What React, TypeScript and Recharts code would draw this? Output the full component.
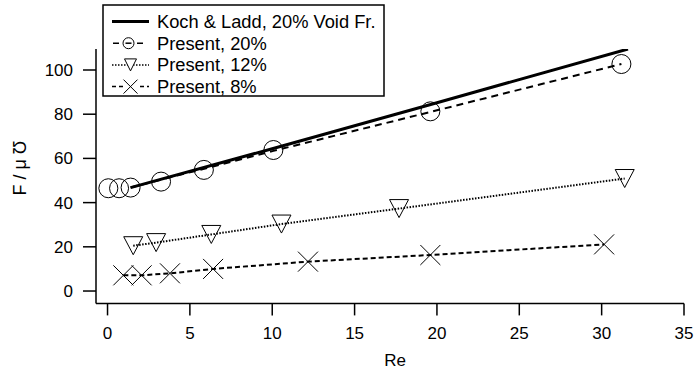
import React from 'react';
import { ComposedChart, Line, XAxis, YAxis, Label } from 'recharts';

const FONT = '"Liberation Sans", Arial, Helvetica, sans-serif';

const X_TICKS = [0, 5, 10, 15, 20, 25, 30, 35];
const Y_TICKS = [0, 20, 40, 60, 80, 100];

// Koch & Ladd, 20% void fraction (solid line)
const kochRe = [1.4, 10, 20, 31.6];
const kochF = [46.8, 64.4, 85.2, 109.5];

// Present, 20% (circles) and its dashed fit
const p20Re = [0.05, 0.7, 1.4, 3.25, 5.85, 10.07, 19.6, 31.2];
const p20F = [46.5, 46.5, 46.8, 49.5, 54.8, 63.8, 81.3, 102.7];
const p20FitRe = [1.4, 10.07, 19.6, 31.2];
const p20FitF = [46.8, 63.4, 81.0, 102.7];

// Present, 12% (down triangles)
const p12Re = [1.56, 2.95, 6.3, 10.56, 17.7, 31.4];
const p12F = [20.5, 21.9, 25.6, 30.3, 37.3, 50.9];

// Present, 8% (crosses)
const p8Re = [0.96, 2.07, 3.79, 6.41, 12.17, 19.6, 30.15];
const p8F = [7.1, 7.1, 8.0, 10.0, 13.3, 16.3, 21.1];

const LEGEND_LABELS = ['Koch & Ladd, 20% Void Fr.', 'Present, 20%', 'Present, 12%', 'Present, 8%'];

const toPoints = (xs: number[], ys: number[]) => xs.map((x, i) => ({ x, y: ys[i] }));

const kochData = toPoints(kochRe, kochF);
const p20Data = toPoints(p20Re, p20F);
const p20FitData = toPoints(p20FitRe, p20FitF);
const p12Data = toPoints(p12Re, p12F);
const p8Data = toPoints(p8Re, p8F);

const CircleDot = (props: any) => {
  const { cx, cy, index } = props;
  return <circle key={`c-${index}`} cx={cx} cy={cy} r={9.5} fill="none" stroke="#000" strokeWidth={1} />;
};

const TriangleDot = (props: any) => {
  const { cx, cy, index } = props;
  return (
    <polygon
      key={`t-${index}`}
      points={`${cx - 9.5},${cy - 9} ${cx + 9.5},${cy - 9} ${cx},${cy + 9}`}
      fill="none"
      stroke="#000"
      strokeWidth={1}
    />
  );
};

const CrossDot = (props: any) => {
  const { cx, cy, index } = props;
  const s = 10;
  return (
    <path
      key={`x-${index}`}
      d={`M${cx - s},${cy - s}L${cx + s},${cy + s}M${cx - s},${cy + s}L${cx + s},${cy - s}`}
      stroke="#000"
      strokeWidth={1}
      fill="none"
    />
  );
};

// legend drawn as an overlay box in the top-left
const LegendBox = () => {
  const left = 103;
  const top = 5;
  const rowH = 21.7;
  const x1 = 112;
  const x2 = 149;
  const xm = (x1 + x2) / 2;
  return (
    <svg width={694} height={372} style={{ position: 'absolute', left: 0, top: 0, pointerEvents: 'none' }}>
      <rect x={left} y={top} width={281} height={91} fill="#fff" stroke="#000" strokeWidth={1.5} />
      {LEGEND_LABELS.map((label, i) => {
        const cy = top + 16.5 + i * rowH;
        return (
          <g key={label}>
            {i === 0 && <line x1={x1} x2={x2} y1={cy} y2={cy} stroke="#000" strokeWidth={3} />}
            {i === 1 && (
              <g>
                <line x1={x1} x2={x2} y1={cy} y2={cy} stroke="#000" strokeWidth={1.5} strokeDasharray="6 6" strokeDashoffset={-1} />
                <circle cx={xm - 2} cy={cy} r={5.5} fill="#fff" stroke="#000" strokeWidth={1} />
                <line x1={xm - 5} x2={xm + 1} y1={cy} y2={cy} stroke="#000" strokeWidth={1.5} />
              </g>
            )}
            {i === 2 && (
              <g>
                <line x1={x1} x2={x2} y1={cy} y2={cy} stroke="#000" strokeWidth={1.5} strokeDasharray="1.5 1.5" />
                <polygon points={`${xm - 6},${cy - 6} ${xm + 6},${cy - 6} ${xm},${cy + 6}`} fill="#fff" stroke="#000" strokeWidth={1} />
              </g>
            )}
            {i === 3 && (
              <g>
                <line x1={x1} x2={x2} y1={cy} y2={cy} stroke="#000" strokeWidth={1.5} strokeDasharray="4 3" />
                <rect x={xm - 7} y={cy - 7} width={14} height={14} fill="#fff" />
                <path d={`M${xm - 7},${cy - 7}L${xm + 7},${cy + 7}M${xm - 7},${cy + 7}L${xm + 7},${cy - 7}`} stroke="#000" strokeWidth={1} />
              </g>
            )}
            <text x={157} y={cy + 6.5} fontSize={18.3} fontFamily={FONT} fill="#000">
              {label}
            </text>
          </g>
        );
      })}
    </svg>
  );
};

const App: React.FC = () => {
  const axisStroke = { stroke: '#000', strokeWidth: 1.5 };
  return (
    <div style={{ position: 'absolute', left: 0, top: 0, width: 694, height: 372, background: '#fff' }}>
      <ComposedChart width={694} height={372} margin={{ top: 49, right: 10, bottom: 0, left: 30 }}>
        <XAxis
          type="number"
          dataKey="x"
          domain={[-0.7, 35]}
          ticks={X_TICKS}
          allowDataOverflow
          height={68.6}
          tickSize={12}
          tickMargin={12}
          axisLine={axisStroke}
          tickLine={axisStroke}
          tick={{ fill: '#000', fontSize: 17, fontFamily: FONT }}
        >
          <Label
            content={(p: any) => {
              const vb = p.viewBox;
              return (
                <text x={vb.x + vb.width / 2 + 5} y={vb.y + 62.5} textAnchor="middle" fontSize={17} fontFamily={FONT} fill="#000">
                  Re
                </text>
              );
            }}
          />
        </XAxis>
        <YAxis
          type="number"
          dataKey="y"
          domain={[-5.6, 109.5]}
          ticks={Y_TICKS}
          allowDataOverflow
          width={66}
          tickSize={13}
          tickMargin={10}
          axisLine={axisStroke}
          tickLine={axisStroke}
          tick={{ fill: '#000', fontSize: 17, fontFamily: FONT }}
        >
          <Label
            content={(p: any) => {
              const vb = p.viewBox;
              const x = vb.x - 10;
              const y = vb.y + vb.height / 2 - 8;
              return (
                <text x={x} y={y} transform={`rotate(-90 ${x} ${y})`} textAnchor="middle" dominantBaseline="central" fontSize={18} fontFamily={FONT} fill="#000">
                  F / μ Ʊ
                </text>
              );
            }}
          />
        </YAxis>
        <Line data={kochData} dataKey="y" type="linear" stroke="#000" strokeWidth={3} dot={false} isAnimationActive={false} />
        <Line data={p20FitData} dataKey="y" type="linear" stroke="#000" strokeWidth={2} strokeDasharray="7 5" dot={false} isAnimationActive={false} />
        <Line data={p20Data} dataKey="y" type="linear" stroke="none" dot={CircleDot} activeDot={false} isAnimationActive={false} />
        <Line data={p12Data} dataKey="y" type="linear" stroke="#000" strokeWidth={2} strokeDasharray="1.5 1.5" dot={TriangleDot} activeDot={false} isAnimationActive={false} />
        <Line data={p8Data} dataKey="y" type="linear" stroke="#000" strokeWidth={2} strokeDasharray="5 3" dot={CrossDot} activeDot={false} isAnimationActive={false} />
      </ComposedChart>
      <LegendBox />
    </div>
  );
};

export default App;
